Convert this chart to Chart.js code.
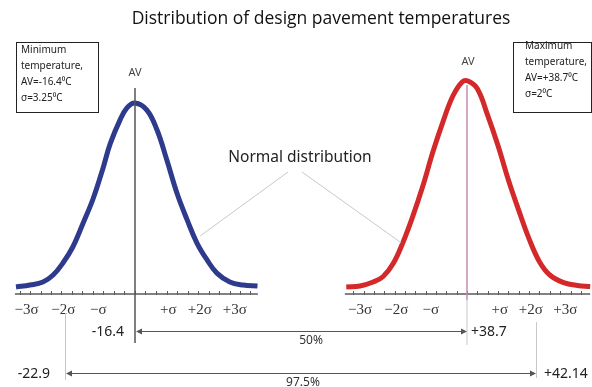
<!DOCTYPE html>
<html><head><meta charset="utf-8">
<script src="https://cdn.jsdelivr.net/npm/chart.js@4.4.0/dist/chart.umd.min.js"></script>
<style>html,body{margin:0;padding:0;background:#fff;overflow:hidden}#wrap{width:592px;height:387px;position:relative}</style>
</head><body><div id="wrap"><canvas id="c" width="592" height="387"></canvas></div>
<script>
// ---------- data ----------
const titleText = 'Distribution of design pavement temperatures';
const noteText = 'Normal distribution';
// left curve (minimum temperature), x in sigma units, y relative height
const leftSigma  = [-3.4,-3.0,-2.63,-2.34,-2.06,-1.77,-1.49,-1.2,-0.91,-0.71,-0.43,-0.23,0,0.34,0.63,0.91,1.2,1.49,1.77,2.06,2.34,2.71,3.09,3.5];
const leftHeight = [0.037,0.047,0.063,0.10,0.163,0.25,0.37,0.50,0.665,0.79,0.915,0.98,1.005,0.968,0.863,0.705,0.53,0.39,0.268,0.179,0.11,0.063,0.047,0.042];
// right curve (maximum temperature)
const rightSigma  = [-3.5,-3.1,-2.72,-2.43,-2.14,-1.86,-1.57,-1.28,-0.99,-0.70,-0.41,-0.14,0.03,0.3,0.6,0.9,1.2,1.5,1.8,2.1,2.4,2.8,3.2,3.57];
const rightHeight = [0.037,0.042,0.063,0.092,0.16,0.27,0.41,0.568,0.747,0.905,1.042,1.116,1.121,1.08,0.94,0.78,0.60,0.44,0.29,0.17,0.10,0.06,0.045,0.04];
// sigma tick labels
const sigmaLabels   = ['\u22123\u03c3','\u22122\u03c3','\u2212\u03c3','+\u03c3','+2\u03c3','+3\u03c3'];
const sigmaLabelPos = [-3.1,-2.05,-1.05,0.95,1.85,2.85];
// info boxes
const leftInfo  = ['Minimum','temperature,','AV=-16.4\u2070C','\u03c3=3.25\u2070C'];
const rightInfo = ['Maximum','temperature,','AV=+38.7\u2070C','\u03c3=2\u2070C'];
// ranges between the two distributions
const rangeLeftSigma  = [0, -2];
const rangeRightSigma = [0, 2];
const rangeLeftLabel  = ['-16.4', '-22.9'];
const rangeRightLabel = ['+38.7', '+42.14'];
const rangeShare      = ['50%', '97.5%'];

// ---------- layout constants ----------
const leftAxisExtent  = [-3.43, 3.51];
const rightAxisExtent = [-3.54, 3.57];

const diagram = {
  id: 'diagram',
  beforeDatasetsDraw(chart) {
    const ctx = chart.ctx, xL = chart.scales.xL, xR = chart.scales.xR, y = chart.scales.y;
    const y0 = y.getPixelForValue(0);
    ctx.save();
    [[xL, leftAxisExtent],[xR, rightAxisExtent]].forEach(([sc, ext]) => {
      ctx.strokeStyle = '#5a5a5a'; ctx.lineWidth = 1.5;
      ctx.beginPath(); ctx.moveTo(sc.getPixelForValue(ext[0]), y0); ctx.lineTo(sc.getPixelForValue(ext[1]), y0); ctx.stroke();
      ctx.lineWidth = 1;
      for (let s = -3.3; s <= 3.31; s += 0.3) {
        const px = Math.round(sc.getPixelForValue(s)) + 0.5;
        ctx.beginPath(); ctx.moveTo(px, y0 - 3); ctx.lineTo(px, y0 + 1); ctx.stroke();
      }
      ctx.fillStyle = '#333'; ctx.font = '15px "Liberation Serif"'; ctx.textAlign = 'center'; ctx.textBaseline = 'middle';
      sigmaLabels.forEach((t, i) => ctx.fillText(t, sc.getPixelForValue(sigmaLabelPos[i]), y0 + 16));
    });
    const xr0 = xR.getPixelForValue(0);
    ctx.strokeStyle = '#c48bb5'; ctx.lineWidth = 1.5;
    ctx.beginPath(); ctx.moveTo(xr0, y.getPixelForValue(1.1)); ctx.lineTo(xr0, y0 + 6); ctx.stroke();
    ctx.restore();
  },
  afterDatasetsDraw(chart) {
    const ctx = chart.ctx, xL = chart.scales.xL, xR = chart.scales.xR, y = chart.scales.y;
    const y0 = y.getPixelForValue(0);
    ctx.save();
    ctx.fillStyle = '#111'; ctx.textAlign = 'center'; ctx.textBaseline = 'middle';
    ctx.font = '17.5px "Open Sans"';
    ctx.fillText(titleText, 321, 19);
    const xl0 = xL.getPixelForValue(0), xr0 = xR.getPixelForValue(0);
    ctx.strokeStyle = '#555'; ctx.lineWidth = 1.5;
    ctx.beginPath(); ctx.moveTo(xl0, y.getPixelForValue(1.084)); ctx.lineTo(xl0, y0 + 49); ctx.stroke();
    ctx.strokeStyle = '#c8c8c8'; ctx.lineWidth = 1;
    ctx.beginPath(); ctx.moveTo(xr0, y0 + 6); ctx.lineTo(xr0, y0 + 51); ctx.stroke();
    ctx.fillStyle = '#444'; ctx.font = '11px "Noto Sans"';
    ctx.fillText('AV', xl0, 73);
    ctx.fillText('AV', xr0 + 1, 62);
    ctx.fillStyle = '#222'; ctx.font = '15.5px "Noto Sans"';
    ctx.fillText(noteText, 300, 158);
    ctx.strokeStyle = '#c8c8c8'; ctx.lineWidth = 1;
    ctx.beginPath(); ctx.moveTo(288, 172); ctx.lineTo(xL.getPixelForValue(1.86), y.getPixelForValue(0.305)); ctx.stroke();
    ctx.beginPath(); ctx.moveTo(302, 172); ctx.lineTo(xR.getPixelForValue(-1.91), y.getPixelForValue(0.27)); ctx.stroke();
    const box = (x, yTop, w, h, lines, tx, ty, lh) => {
      ctx.strokeStyle = '#222'; ctx.lineWidth = 1;
      ctx.strokeRect(x + 0.5, yTop + 0.5, w, h);
      ctx.fillStyle = '#222'; ctx.font = '10px "Noto Sans"'; ctx.textAlign = 'left'; ctx.textBaseline = 'middle';
      lines.forEach((t, i) => ctx.fillText(t, tx, ty + i * lh));
    };
    box(16, 42, 82, 70, leftInfo, 21, 50, 16.2);
    box(513, 42, 78, 70, rightInfo, 525, 46, 16);
    const arrowHead = (x, yy, dir) => {
      ctx.beginPath(); ctx.moveTo(x, yy); ctx.lineTo(x - dir * 6, yy - 3); ctx.lineTo(x - dir * 6, yy + 3); ctx.closePath(); ctx.fill();
    };
    const rowY = [y0 + 37, y0 + 79];
    const shareY = [y0 + 47, y0 + 89];
    rangeLeftSigma.forEach((ls, i) => {
      const a = xL.getPixelForValue(ls), b = xR.getPixelForValue(rangeRightSigma[i]);
      const yy = rowY[i] + 0.5;
      if (ls !== 0) { ctx.strokeStyle = '#c8c8c8'; ctx.beginPath(); ctx.moveTo(Math.round(a)+0.5, y0 + 19); ctx.lineTo(Math.round(a)+0.5, y0 + 86); ctx.stroke(); }
      if (rangeRightSigma[i] !== 0) { ctx.strokeStyle = '#c8c8c8'; ctx.beginPath(); ctx.moveTo(Math.round(b)+0.5, y0 + 28); ctx.lineTo(Math.round(b)+0.5, y0 + 84); ctx.stroke(); }
      ctx.strokeStyle = '#555'; ctx.fillStyle = '#555'; ctx.lineWidth = 1;
      ctx.beginPath(); ctx.moveTo(a + 2, yy); ctx.lineTo(b - 1, yy); ctx.stroke();
      arrowHead(a + 1, yy, -1); arrowHead(b, yy, 1);
      ctx.fillStyle = '#222'; ctx.font = '14px "Noto Sans"'; ctx.textBaseline = 'middle';
      ctx.textAlign = 'right';
      ctx.fillText(rangeLeftLabel[i], i === 0 ? a - 11 : a - 15, yy + 1);
      ctx.textAlign = 'left';
      ctx.fillText(rangeRightLabel[i], i === 0 ? b + 4 : b + 8, yy + 1);
      ctx.textAlign = 'center'; ctx.font = '12px "Noto Sans"'; ctx.fillStyle = '#333';
      ctx.fillText(rangeShare[i], i === 0 ? 311 : 303, shareY[i]);
    });
    ctx.restore();
  }
};

const mk = (xs, ys) => xs.map((v, i) => ({x: v, y: ys[i]}));

new Chart(document.getElementById('c'), {
  type: 'line',
  data: {
    datasets: [
      { label: 'Minimum temperature', data: mk(leftSigma, leftHeight), xAxisID: 'xL', yAxisID: 'y',
        borderColor: '#2e3a8c', borderWidth: 5, pointRadius: 0, tension: 0.4, clip: false, fill: false },
      { label: 'Maximum temperature', data: mk(rightSigma, rightHeight), xAxisID: 'xR', yAxisID: 'y',
        borderColor: '#d3292b', borderWidth: 5, pointRadius: 0, tension: 0.4, clip: false, fill: false }
    ]
  },
  options: {
    responsive: false, animation: false, devicePixelRatio: 1,
    layout: { padding: 0 },
    plugins: { legend: { display: false }, tooltip: { enabled: false }, title: { display: false } },
    scales: {
      xL: { type: 'linear', display: false, min: -135/35, max: (592-135)/35 },
      xR: { type: 'linear', display: false, min: -467/34.5, max: (592-467)/34.5 },
      y:  { type: 'linear', display: false, min: (294-387)/190, max: 294/190 }
    }
  },
  plugins: [diagram]
});
</script>
</body></html>
